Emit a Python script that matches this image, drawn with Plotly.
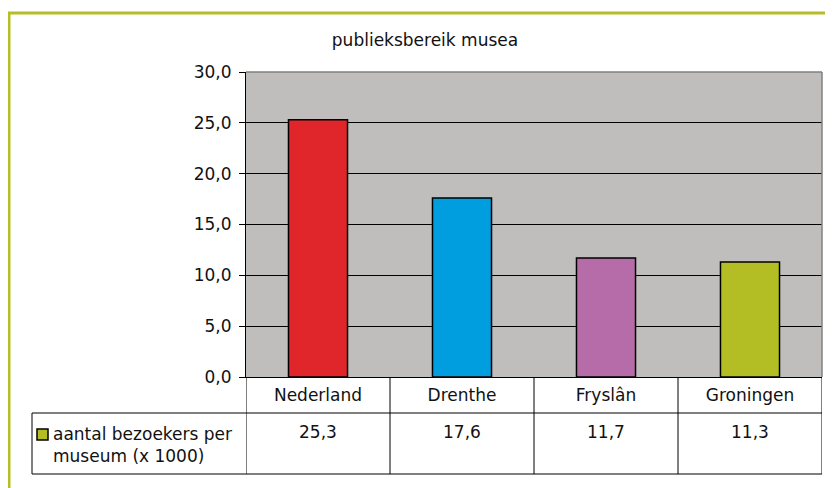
import plotly.graph_objects as go

categories = ["Nederland", "Drenthe", "Fryslân", "Groningen"]
values = [25.3, 17.6, 11.7, 11.3]
bar_colors = ["#E0262A", "#009EDE", "#B66CA8", "#B2BE23"]
series_name = "aantal bezoekers per<br>museum (x 1000)"
title_text = "publieksbereik musea"
y_ticks = [0, 5, 10, 15, 20, 25, 30]

OFF = 8  # page body margin
W, H = 833, 488
L, R, T, B = 246 - OFF, 822 - OFF, 72 - OFF, 377 - OFF  # plot area in figure px

def px_x(x):
    return (x - OFF - L) / (R - L)

def px_y(y):
    return (B - (y - OFF)) / (B - T)

FONT = "DejaVu Sans"
FS = 17
fig = go.Figure()
fig.add_trace(go.Bar(
    x=categories, y=values,
    marker=dict(color=bar_colors, line=dict(color="black", width=1.5)),
    showlegend=False,
))

fig.update_layout(
    width=W, height=H,
    margin=dict(l=L, r=W - R, t=T, b=H - B),
    paper_bgcolor="white",
    plot_bgcolor="#BFBEBD",
    separators=",.",
    bargap=0.59,
    font=dict(family=FONT, size=FS, color="#111"),
    title=dict(text=title_text, x=px_x(425), xref="paper", xanchor="center",
               y=1 - (40 - OFF) / H, yanchor="middle", font=dict(size=FS)),
    xaxis=dict(type="category", range=[-0.5, 3.5], showline=True, linecolor="black",
               linewidth=1, ticks="outside", ticklen=3, tickcolor="rgba(0,0,0,0)",
               showgrid=False, tickfont=dict(size=FS)),
    yaxis=dict(range=[0, 30], tickvals=y_ticks, tickformat=".1f", showline=True,
               linecolor="black", linewidth=1, ticks="outside", ticklen=6,
               tickcolor="black", gridcolor="black", gridwidth=1,
               ticklabelstandoff=4, zeroline=False, tickfont=dict(size=FS)),
)

shapes = []
# plot area top/right border (gray)
shapes.append(dict(type="line", xref="paper", yref="paper", x0=0, x1=1, y0=1, y1=1,
                   line=dict(color="#808080", width=1.5)))
shapes.append(dict(type="line", xref="paper", yref="paper", x0=1, x1=1, y0=0, y1=1,
                   line=dict(color="#808080", width=1.5)))
# table grid
ln = dict(color="black", width=1)
row1 = px_y(413)
row2 = px_y(474)
for i in range(len(categories) + 1):
    shapes.append(dict(type="line", xref="x", yref="paper", x0=i - 0.5, x1=i - 0.5,
                       y0=0, y1=row2, line=ln))
shapes.append(dict(type="line", xref="paper", yref="paper", x0=px_x(32), x1=1,
                   y0=row1, y1=row1, line=ln))
shapes.append(dict(type="line", xref="paper", yref="paper", x0=px_x(32), x1=1,
                   y0=row2, y1=row2, line=ln))
shapes.append(dict(type="line", xref="paper", yref="paper", x0=px_x(32), x1=px_x(32),
                   y0=row1, y1=row2, line=ln))
# legend key
shapes.append(dict(type="rect", xref="paper", yref="paper", x0=px_x(37), x1=px_x(48),
                   y0=px_y(440), y1=px_y(429), fillcolor=bar_colors[3],
                   line=dict(color="black", width=1.5)))
# outer border
shapes.append(dict(type="rect", xref="paper", yref="paper", x0=px_x(9), x1=px_x(850),
                   y0=px_y(505), y1=px_y(13), line=dict(color="#B5BE26", width=3),
                   fillcolor="rgba(0,0,0,0)", layer="below"))
fig.update_layout(shapes=shapes)

ann = []
for c, v in zip(categories, values):
    ann.append(dict(x=c, xref="x", y=px_y(432), yref="paper", text=f"{v:.1f}".replace(".", ","),
                    showarrow=False, xanchor="center", yanchor="middle", font=dict(size=FS)))
ann.append(dict(x=px_x(51), xref="paper", y=px_y(445), yref="paper", text=series_name,
                showarrow=False, xanchor="left", yanchor="middle", align="left",
                font=dict(size=FS)))
fig.update_layout(annotations=ann)

fig.write_html("out.html")
